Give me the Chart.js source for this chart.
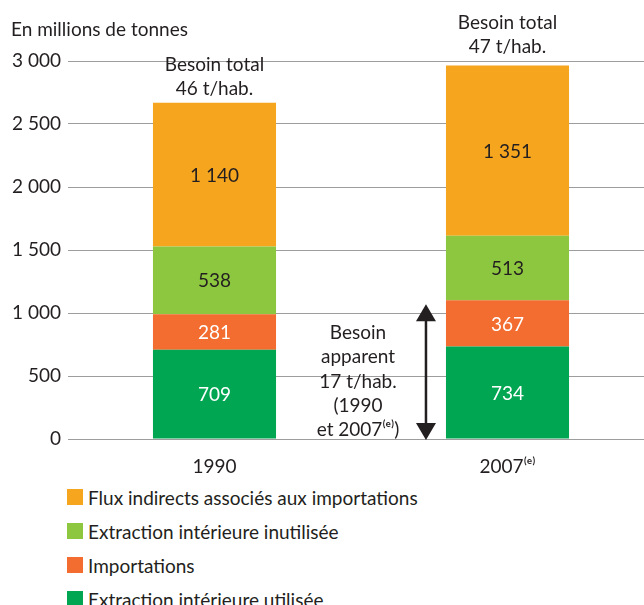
<!DOCTYPE html>
<html lang="fr">
<head>
<meta charset="utf-8">
<script src="https://cdn.jsdelivr.net/npm/chart.js@4"></script>
<style>
  html, body { margin: 0; padding: 0; background: #fff; overflow: hidden; }
  #wrap { position: relative; width: 644px; height: 605px; overflow: hidden; }
  #box { width: 654px; height: 480px; }
  #legend { position: absolute; left: 67px; top: 480px; font-family: Lato, sans-serif; font-size: 19px; color: #231f20; }
  .item { height: 34px; display: flex; align-items: center; }
  .item span.sw { display: inline-block; width: 16px; height: 16px; margin-right: 5px; }
</style>
</head>
<body>
<div id="wrap">
  <div id="box"><canvas id="chart" width="654" height="480"></canvas></div>
  <div id="legend"></div>
</div>
<script>
// Data
const years = ['1990', '2007⁽ᵉ⁾'];
const seriesNames = [
  'Extraction intérieure utilisée',
  'Importations',
  'Extraction intérieure inutilisée',
  'Flux indirects associés aux importations'
];
const extractionUtilisee = [709, 734];
const importations = [281, 367];
const extractionInutilisee = [538, 513];
const fluxIndirects = [1140, 1351];
const totalLabels = [['Besoin total', '46 t/hab.'], ['Besoin total', '47 t/hab.']];
const apparentLabel = ['Besoin', 'apparent', '17 t/hab.', '(1990', 'et 2007⁽ᵉ⁾)'];
const apparentValue = 1070;

const colors = ['#00a651', '#f26d2f', '#8dc63f', '#f6a51f'];
const labelColors = ['#ffffff', '#ffffff', '#231f20', '#231f20'];
const FONT = 'Lato, sans-serif';
const SIZE = 19;
const textColor = '#231f20';

function fmt(v) {
  return String(v).replace(/\B(?=(\d{3})+(?!\d))/g, ' ');
}

// Draws value labels, totals and the arrow annotation
const annotations = {
  id: 'annotations',
  afterDatasetsDraw(chart) {
    const ctx = chart.ctx;
    const y = chart.scales.y;
    ctx.save();
    ctx.font = SIZE + 'px ' + FONT;
    ctx.textAlign = 'center';
    ctx.textBaseline = 'middle';

    // segment values
    chart.data.datasets.forEach((ds, i) => {
      const meta = chart.getDatasetMeta(i);
      meta.data.forEach((bar, j) => {
        ctx.fillStyle = labelColors[i];
        ctx.fillText(fmt(ds.data[j]), bar.x, (bar.y + bar.base) / 2 + 1);
      });
    });

    // totals above bars
    const topMeta = chart.getDatasetMeta(3);
    const gaps = [14, 19];
    ctx.fillStyle = textColor;
    topMeta.data.forEach((bar, j) => {
      const lines = totalLabels[j];
      lines.forEach((t, k) => {
        ctx.fillText(t, bar.x, bar.y - gaps[j] - (lines.length - 1 - k) * 24);
      });
    });

    // arrow
    const bar2 = topMeta.data[1];
    const ax = bar2.x - bar2.width / 2 - 20;
    const yTop = y.getPixelForValue(apparentValue);
    const yBot = y.getPixelForValue(0);
    ctx.strokeStyle = textColor;
    ctx.fillStyle = textColor;
    ctx.lineWidth = 2.5;
    ctx.beginPath();
    ctx.moveTo(ax, yTop + 12);
    ctx.lineTo(ax, yBot - 12);
    ctx.stroke();
    ctx.beginPath();
    ctx.moveTo(ax, yTop); ctx.lineTo(ax - 10, yTop + 17); ctx.lineTo(ax + 10, yTop + 17);
    ctx.closePath(); ctx.fill();
    ctx.beginPath();
    ctx.moveTo(ax, yBot + 1); ctx.lineTo(ax - 10, yBot - 16); ctx.lineTo(ax + 10, yBot - 16);
    ctx.closePath(); ctx.fill();

    // arrow text
    const tx = ax - 68;
    apparentLabel.forEach((t, k) => {
      ctx.fillText(t, tx, yBot - 106 + k * 24.3);
    });

    // axis title
    ctx.textAlign = 'left';
    ctx.fillText('En millions de tonnes', 11, 30);
    ctx.restore();
  }
};

const datasets = [extractionUtilisee, importations, extractionInutilisee, fluxIndirects].map((d, i) => ({
  label: seriesNames[i],
  data: d,
  backgroundColor: colors[i],
  borderWidth: 0,
  categoryPercentage: 1,
  barPercentage: 0.42
}));

new Chart(document.getElementById('chart'), {
  type: 'bar',
  data: { labels: years, datasets: datasets },
  options: {
    responsive: false,
    animation: false,
    layout: { padding: { top: 61, left: 0, right: 0, bottom: 0 } },
    plugins: {
      legend: { display: false },
      tooltip: { enabled: false }
    },
    scales: {
      x: {
        stacked: true,
        grid: { display: false },
        border: { display: false },
        ticks: { color: textColor, font: { family: FONT, size: SIZE }, padding: 8 },
        afterFit: (scale) => { scale.height = 41; }
      },
      y: {
        stacked: true,
        min: 0,
        max: 3000,
        grid: { color: '#9d9d9d', lineWidth: 1, drawTicks: false },
        border: { display: false },
        ticks: {
          stepSize: 500,
          color: textColor,
          font: { family: FONT, size: SIZE },
          padding: 7,
          callback: (v) => fmt(v)
        },
        afterFit: (scale) => { scale.width = 68; }
      }
    }
  },
  plugins: [annotations]
});

// HTML legend, top to bottom as in the original
const legend = document.getElementById('legend');
[3, 2, 1, 0].forEach(i => {
  const row = document.createElement('div');
  row.className = 'item';
  row.innerHTML = '<span class="sw" style="background:' + colors[i] + '"></span>' + seriesNames[i];
  legend.appendChild(row);
});
</script>
</body>
</html>
